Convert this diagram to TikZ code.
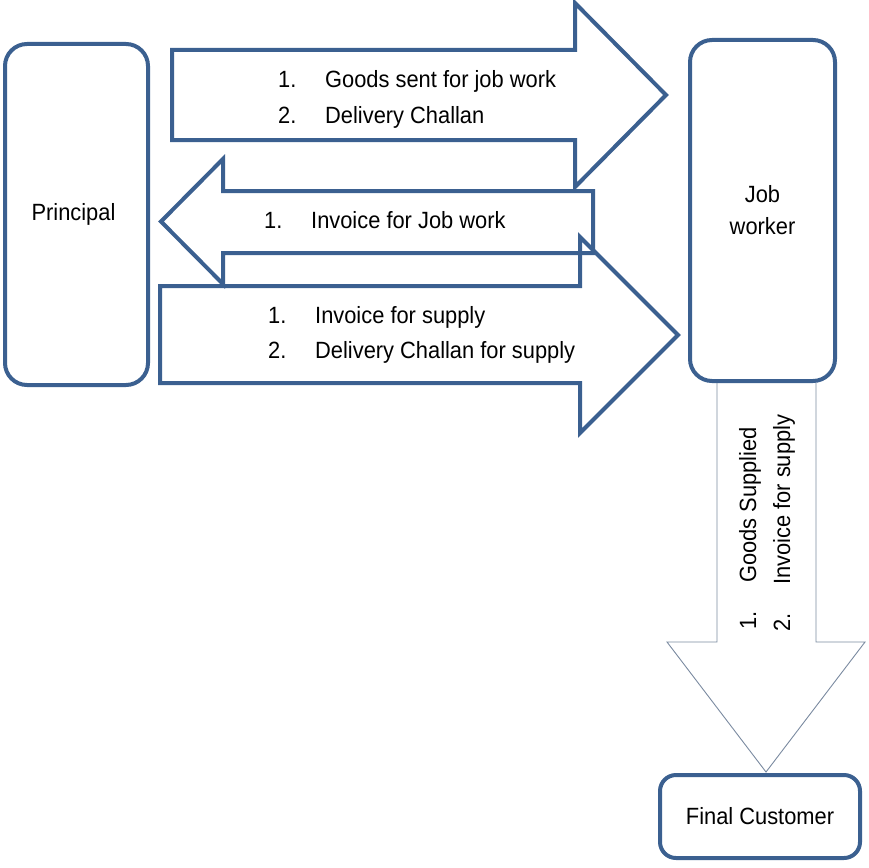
\documentclass[tikz,border=0pt]{standalone}
\usepackage{fontspec}
\setmainfont[FakeStretch=0.93]{Liberation Sans}
\definecolor{edge}{HTML}{3B6090}
\definecolor{thinedge}{HTML}{7A8AA0}
\newcommand{\litem}[2]{\makebox[47pt][l]{#1}#2}
\begin{document}
\begin{tikzpicture}[x=1pt,y=-1pt,
  boxnode/.style={draw=edge,line width=4pt,rounded corners=22pt,inner sep=0pt,
    font=\fontsize{23.5}{32}\selectfont,align=center},
  blockarrow/.style={draw=edge,line width=4pt,line join=miter},
  thinarrow/.style={draw=thinedge,line width=0.9pt,line join=miter},
  label/.style={anchor=base west,inner sep=0pt,font=\fontsize{23.5}{26}\selectfont}]
\useasboundingbox (0,0) rectangle (869,867);

% boxes
\node[boxnode,minimum width=143pt,minimum height=341pt] (principal) at (76.5,214.5) {\hspace*{-6pt}Principal};
\node[boxnode,minimum width=145pt,minimum height=341pt] (jobworker) at (762.5,210.5) {Job\\worker};
\node[boxnode,rounded corners=16pt,minimum width=200pt,minimum height=83pt] (customer) at (760,816.5) {Final Customer};

% arrow 1: principal -> job worker
\draw[blockarrow] (172,50) -- (575,50) -- (575,3) -- (666,95) -- (575,187) -- (575,140) -- (172,140) -- cycle;
\node[label] (a1l1) at (278,87) {\litem{1.}{Goods sent for job work}};
\node[label] (a1l2) at (278,123) {\litem{2.}{Delivery Challan}};

% arrow 3: principal -> job worker (supply)
\draw[blockarrow] (160,286) -- (580,286) -- (580,237) -- (678,335) -- (580,433) -- (580,383) -- (160,383) -- cycle;
\node[label] (a3l1) at (268,323) {\litem{1.}{Invoice for supply}};
\node[label] (a3l2) at (268,358) {\litem{2.}{Delivery Challan for supply}};

% arrow 2: job worker -> principal
\draw[blockarrow] (593,191) -- (223,191) -- (223,159) -- (161,221.5) -- (223,284) -- (223,253) -- (593,253) -- cycle;
\node[label] (a2l1) at (264,228) {\litem{1.}{Invoice for Job work}};

% down arrow: job worker -> final customer
\draw[thinarrow] (jobworker.south -| 717,0) -- (717,642) -- (667,642) -- (766,772) -- (865,642) -- (816,642) -- (jobworker.south -| 816,0);
\node[label,rotate=90] (d1) at (756,630) {\litem{1.}{Goods Supplied}};
\node[label,rotate=90] (d2) at (790,632) {\litem{2.}{Invoice for supply}};
\end{tikzpicture}
\end{document}
